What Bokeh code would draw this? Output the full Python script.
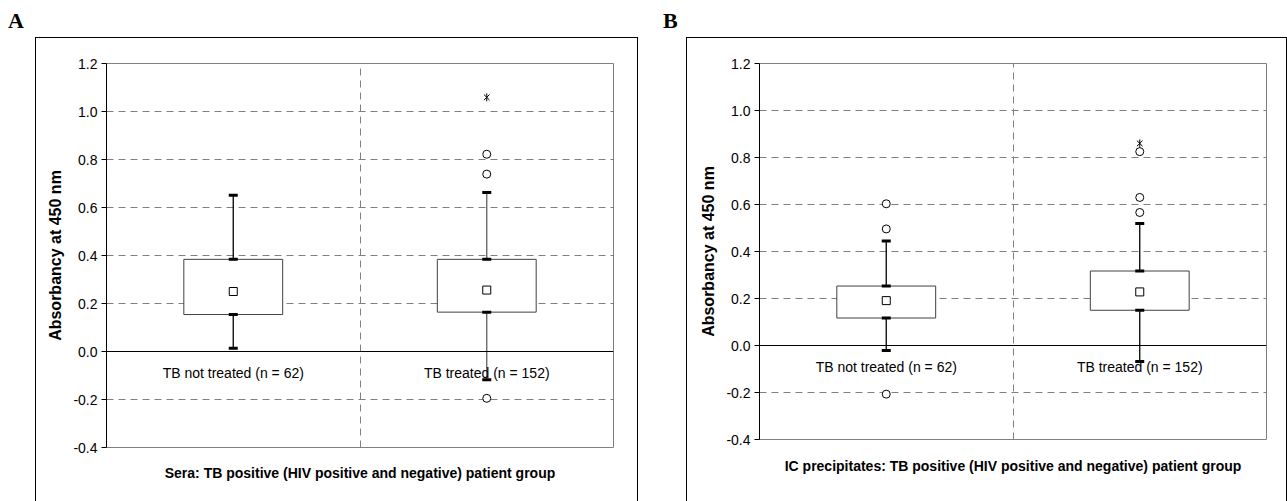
from bokeh.plotting import figure
from bokeh.models import Range1d, FixedTicker, NumeralTickFormatter, ColumnDataSource, Title, Div, Spacer
from bokeh.layouts import row, column
from bokeh.embed import file_html
from bokeh.resources import INLINE

# ---------------- data ----------------
categories = ["TB not treated (n = 62)", "TB treated (n = 152)"]
y_ticks = [-0.4, -0.2, 0.0, 0.2, 0.4, 0.6, 0.8, 1.0, 1.2]

# Panel A: Sera
sera_q1 = [0.154, 0.164]
sera_q3 = [0.384, 0.384]
sera_mean = [0.250, 0.256]
sera_low = [0.014, -0.118]
sera_high = [0.651, 0.662]
sera_out_cat = [1, 1, 1]
sera_out_val = [0.822, 0.739, -0.195]
sera_ext_cat = [1]
sera_ext_val = [1.059]

# Panel B: IC precipitates
ic_q1 = [0.117, 0.150]
ic_q3 = [0.253, 0.317]
ic_mean = [0.191, 0.228]
ic_low = [-0.021, -0.068]
ic_high = [0.445, 0.519]
ic_out_cat = [0, 0, 0, 1, 1, 1]
ic_out_val = [0.603, 0.496, -0.207, 0.630, 0.566, 0.825]
ic_ext_cat = [1]
ic_ext_val = [0.860]

title_a = "Sera: TB positive (HIV positive and negative) patient group"
title_b = "IC precipitates: TB positive (HIV positive and negative) patient group"

FONT = "Liberation Sans"
SERIF = "Liberation Serif"
BOX_W = 0.39


def make_panel(width, height, mb, title, title_standoff, title_dx,
               q1, q3, mean, low, high, out_cat, out_val, ext_cat, ext_val, whisker_colors):
    p = figure(width=width, height=height, x_range=Range1d(0, len(categories)),
               y_range=Range1d(y_ticks[0], y_ticks[-1]),
               output_backend="svg", toolbar_location=None,
               min_border_left=mb[0], min_border_right=mb[1],
               min_border_top=mb[2], min_border_bottom=mb[3],
               styles={"outline": "1px solid black"})
    p.background_fill_color = "white"
    p.border_fill_color = "white"
    p.outline_line_color = "#808080"
    p.outline_line_width = 1

    xs = [i + 0.5 for i in range(len(categories))]

    # y axis
    yax = p.yaxis[0]
    yax.ticker = FixedTicker(ticks=y_ticks)
    yax.formatter = NumeralTickFormatter(format="0.0")
    yax.axis_label = "Absorbancy at 450 nm"
    yax.axis_label_text_font = FONT
    yax.axis_label_text_font_style = "bold"
    yax.axis_label_text_font_size = "16px"
    yax.axis_label_text_color = "black"
    yax.axis_label_standoff = 6
    yax.major_label_text_font = FONT
    yax.major_label_text_font_size = "14px"
    yax.major_label_text_color = "black"
    yax.major_label_standoff = 4
    yax.major_tick_in = 0
    yax.major_tick_out = 5
    yax.minor_tick_line_color = None
    yax.axis_line_color = "black"
    yax.major_tick_line_color = "black"

    # x axis at y=0 inside the plot
    xax = p.xaxis[0]
    xax.ticker = FixedTicker(ticks=xs)
    xax.major_label_overrides = {x: c for x, c in zip(xs, categories)}
    xax.fixed_location = 0
    xax.major_tick_line_color = None
    xax.minor_tick_line_color = None
    xax.axis_line_color = "black"
    xax.axis_line_width = 1
    xax.major_label_text_font = FONT
    xax.major_label_text_font_size = "14px"
    xax.major_label_text_color = "black"
    xax.major_label_standoff = 7

    # grids
    p.ygrid.ticker = FixedTicker(ticks=y_ticks)
    p.ygrid.grid_line_color = "#808080"
    p.ygrid.grid_line_dash = "7 5"
    p.xgrid.ticker = FixedTicker(ticks=[1.0])
    p.xgrid.grid_line_color = "#808080"
    p.xgrid.grid_line_dash = "7 5"

    src = ColumnDataSource(dict(x=xs, left=[x - BOX_W / 2 for x in xs], right=[x + BOX_W / 2 for x in xs],
                                q1=q1, q3=q3, mean=mean, low=low, high=high, wc=whisker_colors))
    p.quad(left="left", right="right", bottom="q1", top="q3", source=src,
           fill_color="white", line_color="#404040", line_width=1)
    p.segment(x0="x", y0="q3", x1="x", y1="high", source=src, line_color="wc", line_width=1.3)
    p.segment(x0="x", y0="q1", x1="x", y1="low", source=src, line_color="wc", line_width=1.3)
    for col in ["low", "high", "q1", "q3"]:
        p.scatter(x="x", y=col, source=src, marker="dash", size=9, line_width=3, line_color="black")
    p.scatter(x="x", y="mean", source=src, marker="square", size=8, fill_color="white",
              line_color="black", line_width=1)

    ox = [xs[c] for c in out_cat]
    p.scatter(x=ox, y=out_val, marker="circle", size=8, fill_color="white",
              line_color="black", line_width=1)
    ex = [xs[c] for c in ext_cat]
    p.scatter(x=ex, y=ext_val, marker="x", size=8, line_color="black", line_width=1)
    p.scatter(x=ex, y=ext_val, marker="dash", angle=1.5708, size=8, line_color="black", line_width=1)

    t = Title(text=title, align="center", offset=title_dx, standoff=title_standoff,
              text_font=FONT, text_font_style="bold", text_font_size="14px", text_color="black")
    p.add_layout(t, "below")
    return p


def letter_div(letter, width, height, left):
    html = ('<div style="margin:10px 0 0 %dpx; font-family:\'%s\'; font-weight:bold; '
            'font-size:22px; line-height:22px; color:black">%s</div>' % (left, SERIF, letter))
    return Div(text=html, width=width, height=height, margin=0)


TOP = 38
H = 501 - TOP
# Panel A: element at x 36..637, y 38..501
pa = make_panel(601, H, (70, 24, 25, 54), title_a, 30, 1,
                sera_q1, sera_q3, sera_mean, sera_low, sera_high,
                sera_out_cat, sera_out_val, sera_ext_cat, sera_ext_val, ["black", "#606060"])
# Panel B: element at x 687..1286
pb = make_panel(599, H, (72, 20, 25, 62), title_b, 32, 10,
                ic_q1, ic_q3, ic_mean, ic_low, ic_high,
                ic_out_cat, ic_out_val, ic_ext_cat, ic_ext_val, ["black", "black"])

col_a = column(letter_div("A", 660, TOP, 8), row(Spacer(width=36, height=H), pa, spacing=0), spacing=0)
col_b = column(letter_div("B", 627, TOP, 3), row(Spacer(width=27, height=H), pb, spacing=0), spacing=0)
layout = row(col_a, col_b, spacing=0)
open("out.html", "w").write(file_html(layout, INLINE))
